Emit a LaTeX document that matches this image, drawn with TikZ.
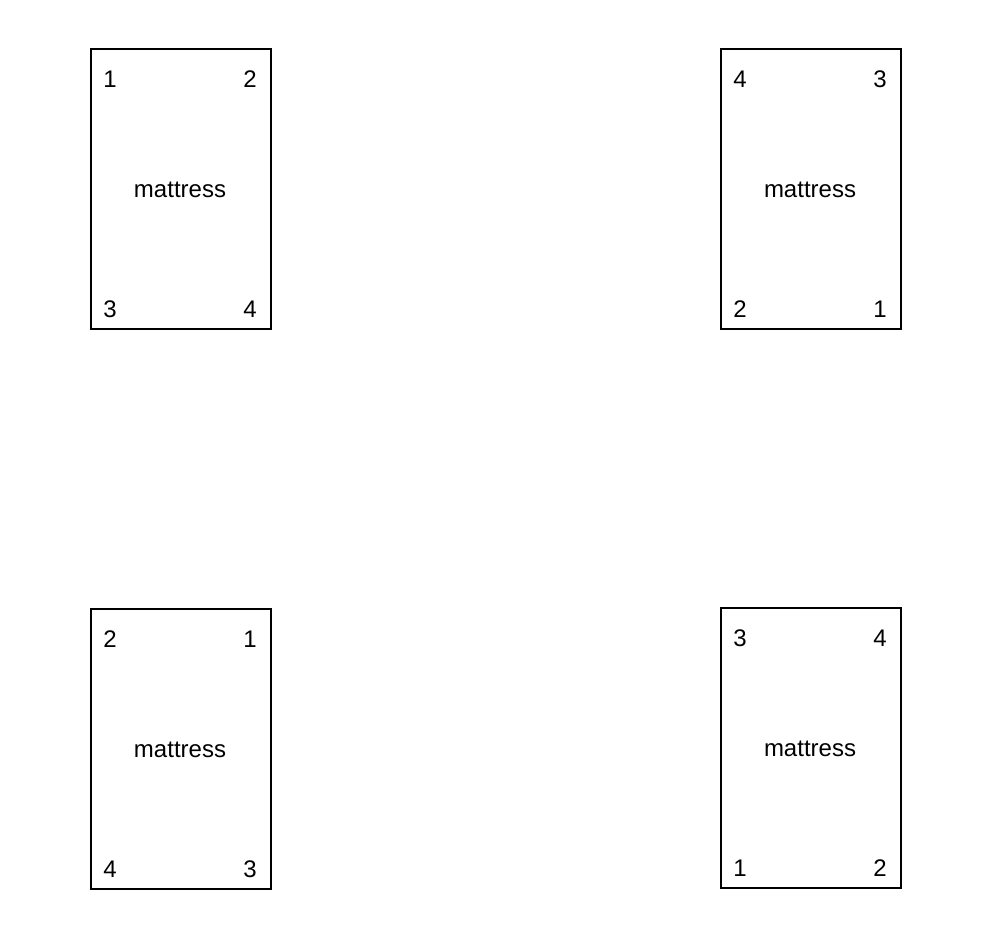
\documentclass[tikz,border=0pt]{standalone}
\usepackage{fontspec}
\setmainfont{Liberation Sans}
\begin{document}
\begin{tikzpicture}[x=1pt,y=-1pt,
  mat/.style={draw=black,line width=2pt,minimum width=180pt,minimum height=280pt,inner sep=0pt},
  lbl/.style={font=\fontsize{24}{28}\selectfont,inner sep=0pt}]
\useasboundingbox (0,0) rectangle (996,948);
\foreach \n/\x/\y/\a/\b/\c/\d in {A/181/189/1/2/3/4, B/811/189/4/3/2/1, C/181/749/2/1/4/3, D/811/748/3/4/1/2}{
  \node[mat] (\n) at (\x,\y) {};
  \node[lbl] (\n m) at ([xshift=-1pt,yshift=-1pt]\n.center) {mattress};
  \node[lbl] (\n1) at ([xshift=20pt,yshift=-31pt]\n.north west) {\a};
  \node[lbl] (\n2) at ([xshift=-22pt,yshift=-31pt]\n.north east) {\b};
  \node[lbl] (\n3) at ([xshift=20pt,yshift=21pt]\n.south west) {\c};
  \node[lbl] (\n4) at ([xshift=-22pt,yshift=21pt]\n.south east) {\d};
}
\end{tikzpicture}
\end{document}
